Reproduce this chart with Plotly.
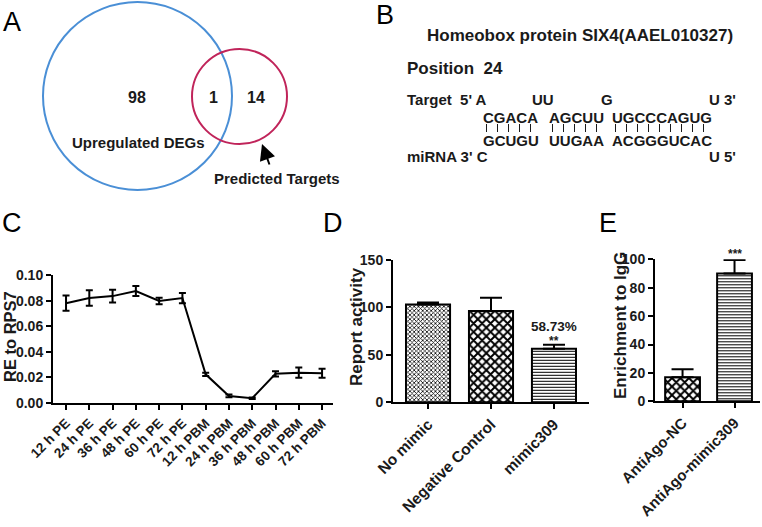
import plotly.graph_objects as go

# ---------------- data ----------------
venn_labels = ["Upregulated DEGs", "Predicted Targets"]
venn_counts = [98, 1, 14]  # only-left, both, only-right

target_gene = "Homeobox protein SIX4(AAEL010327)"
target_position = 24
target_unpaired = ["A", "UU", "G", "U 3'"]
target_paired = ["CGACA", "AGCUU", "UGCCCAGUG"]
mirna_paired = ["GCUGU", "UUGAA", "ACGGGUCAC"]
mirna_unpaired = ["C", "U 5'"]

c_categories = ["12 h PE", "24 h PE", "36 h PE", "48 h PE", "60 h PE", "72 h PE",
                "12 h PBM", "24 h PBM", "36 h PBM", "48 h PBM", "60 h PBM", "72 h PBM"]
c_values = [0.078, 0.082, 0.0835, 0.0875, 0.0797, 0.082,
            0.0224, 0.0055, 0.0037, 0.0228, 0.0237, 0.0232]
c_errors = [0.006, 0.006, 0.005, 0.004, 0.0025, 0.004,
            0.0013, 0.0011, 0.0005, 0.002, 0.004, 0.0035]
c_yticks = [0.00, 0.02, 0.04, 0.06, 0.08, 0.10]

d_categories = ["No mimic", "Negative Control", "mimic309"]
d_values = [103, 96, 56.5]
d_errors = [2, 14, 4]
d_yticks = [0, 50, 100, 150]
d_note = "58.73%"
d_sig = "**"

e_categories = ["AntiAgo-NC", "AntiAgo-mimic309"]
e_values = [17, 90]
e_errors = [5.5, 9.5]
e_yticks = [0, 20, 40, 60, 80, 100]
e_sig = "***"

# ---------------- helpers ----------------
W, H = 762, 527
FONT = "Liberation Sans, Arial, sans-serif"
INK = "#1a1a1a"


def px(x):
    return x / W


def py(y):
    return 1 - y / H


fig = go.Figure()

# ---------------- panel C ----------------
fig.add_trace(go.Scatter(
    x=c_categories, y=c_values, mode="lines",
    line=dict(color="black", width=2),
    error_y=dict(type="data", array=c_errors, visible=True, color="black",
                 thickness=2, width=3.5),
    xaxis="x", yaxis="y", showlegend=False, hoverinfo="skip"))

# ---------------- panel D ----------------
d_patterns = [dict(shape="x", size=3, solidity=0.45, fgcolor="black", bgcolor="white"),
              dict(shape="x", size=6, solidity=0.55, fgcolor="black", bgcolor="white"),
              dict(shape="-", size=3, solidity=0.35, fgcolor="black", bgcolor="white")]
for cat, val, err, pat in zip(d_categories, d_values, d_errors, d_patterns):
    fig.add_trace(go.Bar(
        x=[cat], y=[val], width=0.7,
        marker=dict(color="white", line=dict(color="black", width=2), pattern=pat),
        error_y=dict(type="data", array=[err], arrayminus=[0], symmetric=False,
                     visible=True, color="black", thickness=2, width=11),
        xaxis="x2", yaxis="y2", showlegend=False, hoverinfo="skip"))

# ---------------- panel E ----------------
e_patterns = [dict(shape="x", size=6, solidity=0.55, fgcolor="black", bgcolor="white"),
              dict(shape="-", size=3, solidity=0.35, fgcolor="black", bgcolor="white")]
for cat, val, err, pat in zip(e_categories, e_values, e_errors, e_patterns):
    fig.add_trace(go.Bar(
        x=[cat], y=[val], width=0.67,
        marker=dict(color="white", line=dict(color="black", width=2), pattern=pat),
        error_y=dict(type="data", array=[err], arrayminus=[0], symmetric=False,
                     visible=True, color="black", thickness=2, width=11),
        xaxis="x3", yaxis="y3", showlegend=False, hoverinfo="skip"))

# ---------------- axes ----------------
tickfont = dict(family=FONT, size=14, color=INK, weight="bold")
axis_common = dict(showline=True, linewidth=2, linecolor="black", ticks="outside",
                   ticklen=5, tickwidth=2, tickcolor="black", showgrid=False,
                   zeroline=False, fixedrange=True, automargin=False)

fig.update_layout(
    template="none",
    xaxis=dict(domain=[px(53), px(333)], anchor="y", type="category",
               range=[-0.56, 11.47], tickangle=-45,
               tickfont=dict(family=FONT, size=13.5, color=INK, weight="bold"),
               **axis_common),
    yaxis=dict(domain=[py(403), py(275)], anchor="x", range=[0, 0.10],
               tickvals=c_yticks, tickformat=".2f", tickfont=tickfont, **axis_common),
    xaxis2=dict(domain=[px(393), px(589)], anchor="y2", type="category",
                range=[-0.556, 2.556], tickangle=-45,
                tickfont=dict(family=FONT, size=15.5, color=INK, weight="bold"),
                **axis_common),
    yaxis2=dict(domain=[py(402.3), py(259.8)], anchor="x2", range=[0, 150],
                tickvals=d_yticks, tickfont=tickfont, **axis_common),
    xaxis3=dict(domain=[px(655), px(760)], anchor="y3", type="category",
                range=[-0.53, 1.49], tickangle=-45,
                tickfont=dict(family=FONT, size=15, color=INK, weight="bold"),
                **axis_common),
    yaxis3=dict(domain=[py(401.3), py(259.3)], anchor="x3", range=[0, 100],
                tickvals=e_yticks, tickfont=tickfont, **axis_common),
)

annotations = []
shapes = []


def txt(x, y, text, size, bold=True, xanchor="center", yanchor="middle", angle=0,
        color=INK):
    annotations.append(dict(
        x=px(x), y=py(y), xref="paper", yref="paper", text=text, showarrow=False,
        xanchor=xanchor, yanchor=yanchor, textangle=angle,
        font=dict(family=FONT, size=size, color=color,
                  weight="bold" if bold else "normal")))


# axis titles
txt(10, 337, "RE to RPS7", 16.5, angle=-90)
txt(356, 327, "Report activity", 17, angle=-90)
txt(620, 326, "Enrichment to IgG", 17, angle=-90)

# significance / notes
annotations.append(dict(x=d_categories[2], y=d_values[2] + d_errors[2], xref="x2", yref="y2",
                        text=d_note, showarrow=False, yanchor="bottom", yshift=9,
                        font=dict(family=FONT, size=13.5, color=INK, weight="bold")))
annotations.append(dict(x=d_categories[2], y=d_values[2] + d_errors[2], xref="x2", yref="y2",
                        text=d_sig, showarrow=False, yanchor="bottom", yshift=-5,
                        font=dict(family=FONT, size=12, color=INK, weight="bold")))
annotations.append(dict(x=e_categories[1], y=e_values[1] + e_errors[1], xref="x3", yref="y3",
                        text=e_sig, showarrow=False, yanchor="bottom", yshift=-3,
                        font=dict(family=FONT, size=12, color=INK, weight="bold")))

# panel letters
for letter, (lx, ly) in {"A": (12, 22), "B": (385, 15), "C": (12, 223),
                         "D": (333, 223), "E": (608, 223)}.items():
    txt(lx, ly, letter, 27, bold=False, color="black")

# ---------------- panel A: Venn ----------------
shapes.append(dict(type="circle", xref="paper", yref="paper",
                   x0=px(43), x1=px(232), y0=py(190), y1=py(2),
                   line=dict(color="#4a8fd6", width=2)))
shapes.append(dict(type="circle", xref="paper", yref="paper",
                   x0=px(192), x1=px(287), y0=py(144), y1=py(49),
                   line=dict(color="#c0245a", width=2)))
txt(137, 97, str(venn_counts[0]), 16)
txt(213, 97, str(venn_counts[1]), 16)
txt(256, 97, str(venn_counts[2]), 16)
txt(138, 142, venn_labels[0], 15)
txt(277, 178, venn_labels[1], 15)
annotations.append(dict(x=px(262), y=py(144), xref="paper", yref="paper",
                        ax=8, ay=22, axref="pixel", ayref="pixel",
                        text="", showarrow=True, arrowhead=2, arrowsize=1.6,
                        arrowwidth=2, arrowcolor="black"))

# ---------------- panel B: target pairing ----------------
txt(425, 35, target_gene, 17, xanchor="left")
txt(405, 68, "Position  " + str(target_position), 17, xanchor="left")
txt(405, 100, "Target  5' " + target_unpaired[0], 15, xanchor="left")
txt(530, 100, target_unpaired[1], 15, xanchor="left")
txt(599, 100, target_unpaired[2], 15, xanchor="left")
txt(707, 100, target_unpaired[3], 15, xanchor="left")
txt(405, 157, "miRNA 3' " + mirna_unpaired[0], 15, xanchor="left")
txt(707, 157, mirna_unpaired[1], 15, xanchor="left")

block_left = [481, 547, 610]
pitch = 11.0
for left, top_seq, bot_seq in zip(block_left, target_paired, mirna_paired):
    txt(left, 117, top_seq, 15, xanchor="left")
    txt(left, 140, bot_seq, 15, xanchor="left")
    for i in range(len(top_seq)):
        cx = left + pitch * (i + 0.5)
        shapes.append(dict(type="line", xref="paper", yref="paper",
                           x0=px(cx), x1=px(cx), y0=py(124), y1=py(132),
                           line=dict(color=INK, width=1)))

fig.update_layout(
    width=W, height=H, margin=dict(l=0, r=0, t=0, b=0, pad=0, autoexpand=False),
    paper_bgcolor="white", plot_bgcolor="rgba(0,0,0,0)",
    showlegend=False, bargap=0.3,
    annotations=annotations, shapes=shapes,
    font=dict(family=FONT, color=INK),
)

fig.write_html("out.html",
               config={"displayModeBar": False, "staticPlot": True},
               post_script="document.body.style.margin='0px';"
                           "document.body.style.overflow='hidden';")
